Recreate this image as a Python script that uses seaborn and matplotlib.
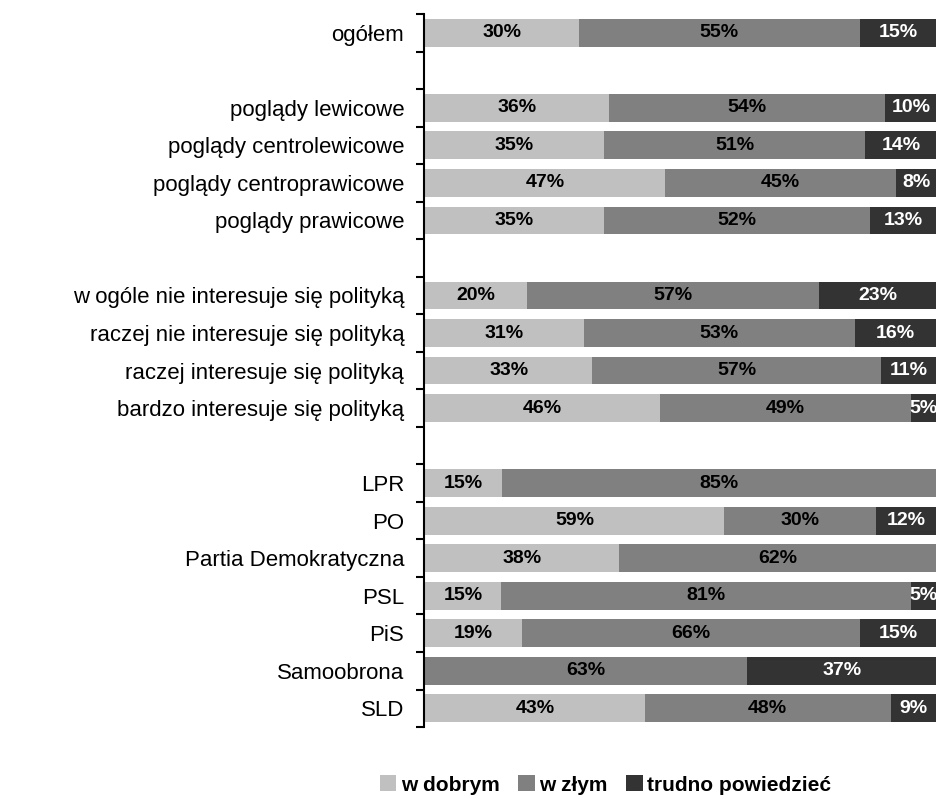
import numpy as np
import pandas as pd
import matplotlib.pyplot as plt
import seaborn as sns
from matplotlib.patches import Patch

# dane
categories = [
    "ogółem", "",
    "poglądy lewicowe", "poglądy centrolewicowe", "poglądy centroprawicowe", "poglądy prawicowe", " ",
    "w ogóle nie interesuje się polityką", "raczej nie interesuje się polityką",
    "raczej interesuje się polityką", "bardzo interesuje się polityką", "  ",
    "LPR", "PO", "Partia Demokratyczna", "PSL", "PiS", "Samoobrona", "SLD",
]
w_dobrym = [30, None, 36, 35, 47, 35, None, 20, 31, 33, 46, None, 15, 59, 38, 15, 19, 0, 43]
w_zlym = [55, None, 54, 51, 45, 52, None, 57, 53, 57, 49, None, 85, 30, 62, 81, 66, 63, 48]
trudno = [15, None, 10, 14, 8, 13, None, 23, 16, 11, 5, None, 0, 12, 0, 5, 15, 37, 9]
series = ["w dobrym", "w złym", "trudno powiedzieć"]
colors = ["#c0c0c0", "#808080", "#333333"]

df = pd.DataFrame({"kat": categories, "dobry": w_dobrym, "zly": w_zlym, "trudno": trudno})
data = df.dropna().copy()
suma = data["dobry"] + data["zly"] + data["trudno"]
# 100% skumulowane
data["c1"] = data["dobry"] / suma * 100
data["c2"] = (data["dobry"] + data["zly"]) / suma * 100
data["c3"] = 100.0

plt.rcParams["font.family"] = ["Liberation Sans", "DejaVu Sans"]
fig = plt.figure(figsize=(9.37, 7.99), dpi=100)
ax = fig.add_axes([0.4536, 0.09, 0.546, 0.8925])

bar_h = 0.74
sns.barplot(data=data, x="c3", y="kat", order=categories, orient="h", color=colors[2],
            width=bar_h, saturation=1, ax=ax, errorbar=None)
sns.barplot(data=data, x="c2", y="kat", order=categories, orient="h", color=colors[1],
            width=bar_h, saturation=1, ax=ax, errorbar=None)
sns.barplot(data=data, x="c1", y="kat", order=categories, orient="h", color=colors[0],
            width=bar_h, saturation=1, ax=ax, errorbar=None)

# etykiety
for _, r in data.iterrows():
    i = categories.index(r["kat"])
    starts = [0, r["c1"], r["c2"]]
    ends = [r["c1"], r["c2"], r["c3"]]
    vals = [r["dobry"], r["zly"], r["trudno"]]
    for k in range(3):
        if vals[k] > 0:
            ax.text((starts[k] + ends[k]) / 2, i, f"{int(vals[k])}%", ha="center", va="center",
                    fontsize=14, fontweight="bold", color="white" if k == 2 else "black",
                    clip_on=False)

ax.set_xlim(0, 100)
ax.set_ylim(len(categories) - 0.5, -0.5)
ax.set_xlabel("")
ax.set_ylabel("")
ax.xaxis.set_visible(False)
for s in ["top", "right", "bottom"]:
    ax.spines[s].set_visible(False)
ax.spines["left"].set_linewidth(1.5)
ax.spines["left"].set_position(("outward", 1))

ax.set_yticks(range(len(categories)))
ax.set_yticklabels([c.strip() for c in categories], fontsize=16)
ax.tick_params(axis="y", which="major", length=0, pad=14)
ax.set_yticks(np.arange(-0.5, len(categories), 1), minor=True)
ax.tick_params(axis="y", which="minor", length=6, width=1.5, direction="out")

handles = [Patch(facecolor=c, edgecolor="none") for c in colors]
fig.legend(handles, series, loc="center", bbox_to_anchor=(0.646, 0.0175), ncol=3, frameon=False,
           prop={"weight": "bold", "size": 15}, handlelength=0.8, handleheight=0.8,
           handletextpad=0.2, columnspacing=0.9)

fig.savefig("out.png", dpi=100)
